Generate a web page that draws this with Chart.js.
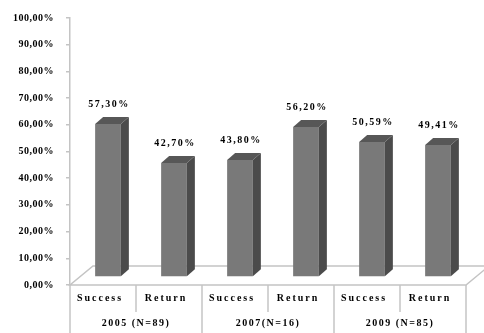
<!DOCTYPE html>
<html>
<head>
<meta charset="utf-8">
<script src="https://cdn.jsdelivr.net/npm/chart.js@4/dist/chart.umd.min.js"></script>
<style>
  html,body{margin:0;padding:0;background:#fff;}
  #wrap{width:484px;height:333px;}
</style>
</head>
<body>
<div id="wrap"><canvas id="chart" width="484" height="333"></canvas></div>
<script>
// data
const categories = ["Success","Return","Success","Return","Success","Return"];
const groups = ["2005 (N=89)","2007(N=16)","2009 (N=85)"];
const values = [57.30,42.70,43.80,56.20,50.59,49.41];
const yMax = 100;
const yStep = 10;

const FONT = "bold 10px 'Liberation Serif', 'Times New Roman', serif";
const fmt = v => v.toFixed(2).replace(".", ",") + "%";

// 3d look
const DEPTH_X = 8, DEPTH_Y = 7;      // bar side / cap
const FLOOR_X = 23, FLOOR_Y = 19;    // floor depth
const SHIFT_X = 5, SHIFT_Y = -8;     // bars stand in the middle of the floor

const bars3d = {
  id: "bars3d",
  beforeDraw(chart){
    chart.ctx.letterSpacing = "0.5px";
  },
  beforeDatasetsDraw(chart){
    const ctx = chart.ctx, a = chart.chartArea;
    // floor
    ctx.save();
    ctx.strokeStyle = "#c4c4c4";
    ctx.lineWidth = 1.5;
    ctx.fillStyle = "#fff";
    ctx.beginPath();
    ctx.moveTo(a.left, a.bottom);
    ctx.lineTo(a.right, a.bottom);
    ctx.lineTo(a.right + FLOOR_X, a.bottom - FLOOR_Y);
    ctx.lineTo(a.left + FLOOR_X, a.bottom - FLOOR_Y);
    ctx.closePath();
    ctx.fill();
    ctx.stroke();
    ctx.restore();
    ctx.save();
    ctx.translate(SHIFT_X, SHIFT_Y);
  },
  afterDatasetsDraw(chart){
    const ctx = chart.ctx;
    const meta = chart.getDatasetMeta(0);
    meta.data.forEach((b, i) => {
      const l = b.x - b.width / 2, r = b.x + b.width / 2;
      // side
      ctx.fillStyle = "#4b4b4b";
      ctx.beginPath();
      ctx.moveTo(r, b.y);
      ctx.lineTo(r + DEPTH_X, b.y - DEPTH_Y);
      ctx.lineTo(r + DEPTH_X, b.base - DEPTH_Y);
      ctx.lineTo(r, b.base);
      ctx.closePath();
      ctx.fill();
      // cap
      ctx.fillStyle = "#575757";
      ctx.beginPath();
      ctx.moveTo(l, b.y);
      ctx.lineTo(l + DEPTH_X, b.y - DEPTH_Y);
      ctx.lineTo(r + DEPTH_X, b.y - DEPTH_Y);
      ctx.lineTo(r, b.y);
      ctx.closePath();
      ctx.fill();
      // value label
      ctx.fillStyle = "#000";
      ctx.font = FONT;
      ctx.letterSpacing = "1.5px";
      ctx.textAlign = "center";
      ctx.textBaseline = "middle";
      ctx.fillText(fmt(values[i]), b.x + 1, b.y - 20);
    });
    ctx.restore();
  },
  afterDraw(chart){
    // two level category table under the floor
    const ctx = chart.ctx, a = chart.chartArea, xs = chart.scales.x;
    const n = categories.length;
    const step = (a.right - a.left) / n;
    ctx.save();
    ctx.strokeStyle = "#c4c4c4";
    ctx.lineWidth = 1.5;
    for (let i = 0; i <= n; i++) {
      const x = a.left + i * step;
      ctx.beginPath();
      ctx.moveTo(x, a.bottom);
      ctx.lineTo(x, i % 2 === 0 ? 333 : 312);
      ctx.stroke();
    }
    ctx.fillStyle = "#000";
    ctx.font = FONT;
    ctx.textAlign = "center";
    ctx.textBaseline = "middle";
    ctx.letterSpacing = "2px";
    categories.forEach((c, i) => {
      ctx.fillText(c, xs.getPixelForValue(i) - 3, a.bottom + 13);
    });
    ctx.letterSpacing = "1.5px";
    groups.forEach((g, i) => {
      const x = (xs.getPixelForValue(i * 2) + xs.getPixelForValue(i * 2 + 1)) / 2;
      ctx.fillText(g, x, a.bottom + 38);
    });
    ctx.restore();
  }
};

new Chart(document.getElementById("chart"), {
  type: "bar",
  data: {
    labels: categories,
    datasets: [{
      data: values,
      backgroundColor: "#797979",
      borderWidth: 0,
      categoryPercentage: 1,
      barPercentage: 0.39
    }]
  },
  options: {
    responsive: false,
    animation: false,
    events: [],
    layout: { padding: { left: 0, right: 18, top: 15, bottom: 0 } },
    plugins: { legend: { display: false }, tooltip: { enabled: false } },
    scales: {
      x: {
        grid: { display: false, drawTicks: false },
        border: { display: false },
        ticks: { display: false },
        afterFit: s => { s.height = 48; }
      },
      y: {
        min: 0,
        max: yMax,
        ticks: {
          stepSize: yStep,
          color: "#000",
          padding: 12,
          font: { family: "'Liberation Serif', serif", size: 10, weight: "bold" },
          callback: v => fmt(v)
        },
        grid: { drawOnChartArea: false, drawTicks: true, tickLength: 4, color: "#c4c4c4", lineWidth: 1.5 },
        border: { display: true, color: "#c4c4c4", width: 1.5 },
        afterFit: s => { s.width = 70; }
      }
    }
  },
  plugins: [bars3d]
});
</script>
</body>
</html>
